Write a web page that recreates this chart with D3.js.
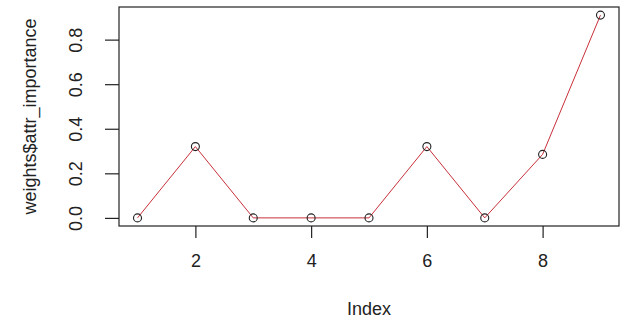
<!DOCTYPE html>
<html>
<head>
<meta charset="utf-8">
<script src="https://cdn.jsdelivr.net/npm/d3@7"></script>
<style>
  body { margin: 0; background: #fff; }
  svg { display: block; font-family: "Liberation Sans", Arial, sans-serif; }
  .lbl { fill: #222; font-size: 18px; }
</style>
</head>
<body>
<svg id="chart" width="621" height="322"></svg>
<script>
const indexValues = [1, 2, 3, 4, 5, 6, 7, 8, 9];
const importance = [0, 0.32, 0, 0, 0, 0.32, 0, 0.285, 0.91];
const xTicks = [2, 4, 6, 8];
const yTicks = [0, 0.2, 0.4, 0.6, 0.8];

const box = { left: 119, right: 619, top: 7, bottom: 226 };
const svg = d3.select("#chart");

// R-style 4% padding on both axes
const xExt = d3.extent(indexValues);
const xPad = (xExt[1] - xExt[0]) * 0.04;
const x = d3.scaleLinear().domain([xExt[0] - xPad, xExt[1] + xPad]).range([box.left, box.right]);
const yMax = d3.max(importance);
const y = d3.scaleLinear().domain([-0.04 * yMax, 1.04 * yMax]).range([box.bottom, box.top]);

svg.append("rect")
  .attr("x", box.left).attr("y", box.top)
  .attr("width", box.right - box.left).attr("height", box.bottom - box.top)
  .attr("fill", "none").attr("stroke", "#222").attr("stroke-width", 1.2);

const xAxis = svg.append("g")
  .attr("transform", `translate(0,${box.bottom})`)
  .call(d3.axisBottom(x).tickValues(xTicks).tickSize(12).tickPadding(16).tickFormat(d3.format("d")));
xAxis.select(".domain").remove();
xAxis.selectAll("line").attr("stroke", "#222").attr("stroke-width", 1.2);
xAxis.selectAll("text").attr("class", "lbl").attr("font-size", null).attr("font-family", null).attr("fill", null);

const yAxis = svg.append("g")
  .attr("transform", `translate(${box.left},0)`)
  .call(d3.axisLeft(y).tickValues(yTicks).tickSize(14).tickFormat(d3.format(".1f")));
yAxis.select(".domain").remove();
yAxis.selectAll("line").attr("stroke", "#222").attr("stroke-width", 1.2);
yAxis.selectAll("text").remove();
yAxis.selectAll(".tick").append("text")
  .attr("class", "lbl")
  .attr("transform", "translate(-37,0) rotate(-90)")
  .attr("text-anchor", "middle")
  .text(d3.format(".1f"));

const line = d3.line().x((d, i) => x(indexValues[i])).y((d) => y(d));
svg.append("path")
  .datum(importance)
  .attr("d", line)
  .attr("fill", "none")
  .attr("stroke", "#c8303a")
  .attr("stroke-width", 1);

svg.append("g").selectAll("circle")
  .data(importance)
  .join("circle")
  .attr("cx", (d, i) => x(indexValues[i]))
  .attr("cy", (d) => y(d))
  .attr("r", 4)
  .attr("fill", "none")
  .attr("stroke", "#222")
  .attr("stroke-width", 1.1);

svg.append("text")
  .attr("class", "lbl")
  .attr("x", (box.left + box.right) / 2)
  .attr("y", 315)
  .attr("text-anchor", "middle")
  .text("Index");

svg.append("text")
  .attr("class", "lbl")
  .attr("transform", `translate(36,${(box.top + box.bottom) / 2}) rotate(-90)`)
  .attr("text-anchor", "middle")
  .text("weights$attr_importance");
</script>
</body>
</html>
